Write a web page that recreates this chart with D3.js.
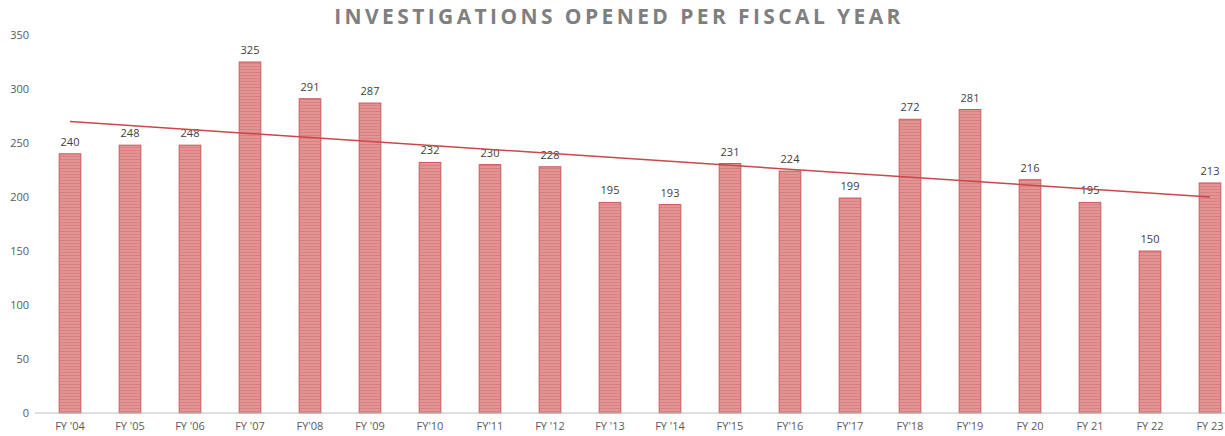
<!DOCTYPE html>
<html>
<head>
<meta charset="utf-8">
<script src="https://cdn.jsdelivr.net/npm/d3@7"></script>
<style>
  body { margin: 0; background: #fff; }
  text { font-family: "Open Sans", "Noto Sans", sans-serif; }
</style>
</head>
<body>
<div id="chart"></div>
<script>
// data
var years = ["FY '04", "FY '05", "FY '06", "FY '07", "FY'08", "FY '09", "FY'10", "FY'11", "FY '12", "FY '13",
  "FY '14", "FY'15", "FY'16", "FY'17", "FY'18", "FY'19", "FY 20", "FY 21", "FY 22", "FY 23"];
var opened = [240, 248, 248, 325, 291, 287, 232, 230, 228, 195, 193, 231, 224, 199, 272, 281, 216, 195, 150, 213];
var yTicks = [0, 50, 100, 150, 200, 250, 300, 350];

var svgWidth = 1225, svgHeight = 436;

var svg = d3.select("#chart").append("svg")
  .attr("width", svgWidth)
  .attr("height", svgHeight);

// striped fill like the original
var defs = svg.append("defs");
var pat = defs.append("pattern")
  .attr("id", "stripes")
  .attr("patternUnits", "userSpaceOnUse")
  .attr("width", 4).attr("height", 3);
pat.append("rect").attr("width", 4).attr("height", 3).attr("fill", "#e39495");
pat.append("rect").attr("width", 4).attr("height", 1).attr("fill", "#d98082");

var x = d3.scaleBand()
  .domain(years)
  .range([40, 1240])
  .paddingInner(0.64)
  .paddingOuter(0.32);

var y = d3.scaleLinear()
  .domain([0, 350])
  .range([413, 35]);

// title
svg.append("text")
  .attr("x", 619).attr("y", 24)
  .attr("text-anchor", "middle")
  .attr("fill", "#7f7f7f")
  .style("font-size", "21px")
  .style("font-weight", "bold")
  .style("letter-spacing", "3.4px")
  .text("INVESTIGATIONS OPENED PER FISCAL YEAR");

// y axis labels only
svg.append("g")
  .selectAll("text")
  .data(yTicks)
  .enter()
  .append("text")
  .attr("x", 29)
  .attr("y", d => y(d) + 4)
  .attr("text-anchor", "end")
  .attr("fill", "#595959")
  .style("font-size", "11px")
  .text(d => d);

// bars
svg.append("g")
  .selectAll("rect")
  .data(opened)
  .enter()
  .append("rect")
  .attr("x", (d, i) => x(years[i]))
  .attr("y", d => y(d))
  .attr("width", x.bandwidth())
  .attr("height", d => y(0) - y(d))
  .attr("fill", "url(#stripes)")
  .attr("stroke", "#c9595b")
  .attr("stroke-width", 1);

// x axis
var xAxis = svg.append("g")
  .attr("transform", `translate(0, ${y(0)})`)
  .call(d3.axisBottom(x).tickSize(0).tickPadding(9));
xAxis.select(".domain").remove();
xAxis.append("line")
  .attr("x1", 35).attr("x2", 1225)
  .attr("stroke", "#bfbfbf").attr("stroke-width", 1);
xAxis.selectAll("text")
  .attr("fill", "#595959")
  .style("font-size", "11px")
  .style("font-family", "'Open Sans', sans-serif");

// value labels
svg.append("g")
  .selectAll("text")
  .data(opened)
  .enter()
  .append("text")
  .attr("x", (d, i) => x(years[i]) + x.bandwidth() / 2)
  .attr("y", d => y(d) - 8)
  .attr("text-anchor", "middle")
  .attr("fill", "#404040")
  .style("font-size", "11px")
  .text(d => d);

// linear trend line (least squares on the bars)
var n = opened.length;
var mx = d3.mean(opened, (d, i) => i);
var my = d3.mean(opened);
var slope = d3.sum(opened, (d, i) => (i - mx) * (d - my)) / d3.sum(opened, (d, i) => (i - mx) * (i - mx));
var icpt = my - slope * mx;
var trend = [0, n - 1].map(i => ({ x: x(years[i]) + x.bandwidth() / 2, v: icpt + slope * i }));

svg.append("path")
  .datum(trend)
  .attr("fill", "none")
  .attr("stroke", "#c9484a")
  .attr("stroke-width", 1.5)
  .attr("d", d3.line().x(d => d.x).y(d => y(d.v)));
</script>
</body>
</html>
